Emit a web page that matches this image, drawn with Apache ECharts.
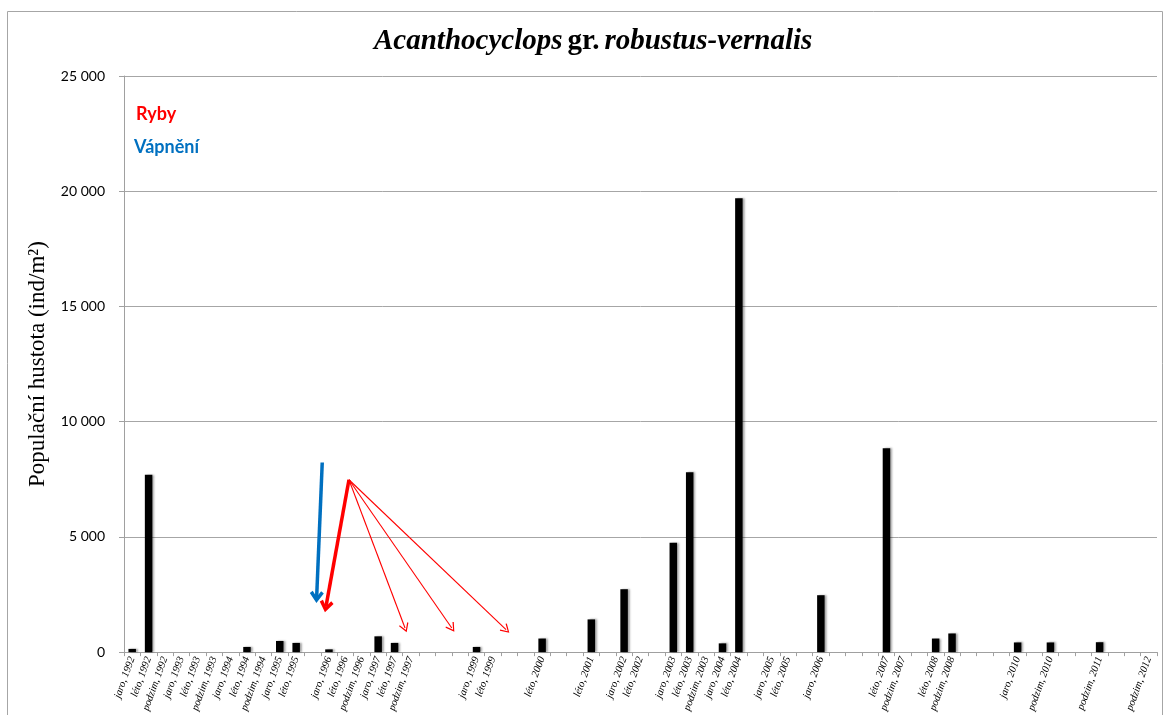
<!DOCTYPE html>
<html>
<head>
<meta charset="utf-8">
<script src="https://cdn.jsdelivr.net/npm/echarts@6/dist/echarts.min.js"></script>
<style>html,body{margin:0;padding:0;background:#fff}#c{width:1164px;height:715px}</style>
</head>
<body>
<div id="c"></div>
<script>
// ---- data ----
const years = [1992,1993,1994,1995,1996,1997,1998,1999,2000,2001,2002,2003,2004,2005,2006,2007,2008,2009,2010,2011,2012];
const seasons = ['jaro', 'léto', 'podzim'];
const categories = years.flatMap(y => seasons.map(s => s + ', ' + y));
// tick labels that are shown on the x axis (sampled seasons)
const tickLabels = [
  'jaro, 1992','léto, 1992','podzim, 1992','jaro, 1993','léto, 1993','podzim, 1993',
  'jaro, 1994','léto, 1994','podzim, 1994','jaro, 1995','léto, 1995',
  'jaro, 1996','léto, 1996','podzim, 1996','jaro, 1997','léto, 1997','podzim, 1997',
  'jaro, 1999','léto, 1999','léto, 2000','léto, 2001','jaro, 2002','léto, 2002',
  'jaro, 2003','léto, 2003','podzim, 2003','jaro, 2004','léto, 2004',
  'jaro, 2005','léto, 2005','jaro, 2006','léto, 2007','podzim, 2007',
  'léto, 2008','podzim, 2008','jaro, 2010','podzim, 2010','podzim, 2011','podzim, 2012'
];
// population density (ind/m2), one value per season 1992-2012
const density = [
  140, 7700, 0,      0, 0, 0,        0, 225, 0,       485, 400, null,
  120, 0, 0,         685, 400, 0,    null, null, null, 225, 0, null,
  null, 590, null,   null, 1420, null, 2730, 0, null, 4750, 7800, 0,
  380, 19700, null,  0, 0, null,     2470, null, null, null, 8850, 0,
  null, 590, 810,    null, null, null, 420, null, 420, null, null, 430,
  null, null, 0
];
const yTicks = [0, 5000, 10000, 15000, 20000, 25000];
// annotation arrows: [xStart, yStart, xEnd, yEnd] in (season index, density) units
const limingArrow = [12.09, 8230, 11.75, 2394];
const fishArrowMain = [13.72, 7480, 12.32, 1986];
const fishArrowsThin = [
  [13.72, 7480, 17.14, 1049],
  [13.72, 7480, 19.99, 1049],
  [13.72, 7480, 23.30, 976]
];

const chevronThin = 'path://M50,0 L100,82 L90,90 L50,22 L10,90 L0,82 Z';
const chevronThick = 'path://M50,0 L100,66 L80,82 L50,40 L20,82 L0,66 Z';

function arrowLine(a, color, width, sym, size) {
  return [
    {coord: [a[0], a[1]], symbol: 'none', lineStyle: {color: color, width: width, type: 'solid'}},
    {coord: [a[2], a[3]], symbol: sym, symbolSize: size}
  ];
}

const chart = echarts.init(document.getElementById('c'), null, {renderer: 'canvas'});
const option = {
  animation: false,
  backgroundColor: '#ffffff',
  title: {
    left: 369,
    top: 22,
    text: '{i|Acanthocyclops} {b|gr.} {i|robustus-vernalis}',
    textStyle: {
      rich: {
        i: {fontFamily: 'Liberation Serif', fontSize: 29, fontWeight: 'bold', fontStyle: 'italic', color: '#000'},
        b: {fontFamily: 'Liberation Serif', fontSize: 29, fontWeight: 'bold', color: '#000'}
      }
    }
  },
  graphic: [
    {type: 'rect', silent: true, shape: {x: 7.5, y: 11.5, width: 1155, height: 720},
     style: {fill: 'none', stroke: '#a6a6a6', lineWidth: 1}},
    {type: 'text', left: 136, top: 105, silent: true,
     style: {text: 'Ryby', fill: '#ff0000', font: 'bold 18px Lato'}},
    {type: 'text', left: 134, top: 138, silent: true,
     style: {text: 'Vápnění', fill: '#0070c0', font: 'bold 18px Lato'}}
  ],
  grid: {left: 124, right: 7, top: 76, bottom: 62.5, containLabel: false},
  xAxis: [
    {
      type: 'category',
      data: categories,
      boundaryGap: true,
      axisLine: {show: true, lineStyle: {color: '#a0a0a0', width: 1}},
      axisTick: {show: true, interval: 0, length: 4, lineStyle: {color: '#a0a0a0'}},
      axisLabel: {
        interval: 0,
        rotate: 70,
        margin: 5,
        fontFamily: 'Liberation Serif',
        fontStyle: 'italic',
        fontSize: 10.5,
        color: '#000',
        formatter: v => tickLabels.includes(v) ? v : ''
      },
      splitLine: {show: false}
    },
    {
      type: 'value', show: false, min: 0, max: categories.length,
      axisLine: {show: false}, splitLine: {show: false}, axisLabel: {show: false}, axisTick: {show: false}
    }
  ],
  yAxis: {
    type: 'value',
    min: 0,
    max: 25000,
    interval: 5000,
    name: 'Populační hustota (ind/m²)',
    nameLocation: 'middle',
    nameGap: 72,
    nameTextStyle: {fontFamily: 'Liberation Serif', fontSize: 23, color: '#000'},
    axisLine: {show: true, lineStyle: {color: '#a0a0a0', width: 1}},
    axisTick: {show: true, inside: false, length: 5, lineStyle: {color: '#a0a0a0'}},
    axisLabel: {
      margin: 19,
      fontFamily: 'Lato',
      fontSize: 14,
      color: '#000',
      formatter: v => yTicks.includes(v) ? String(v).replace(/\B(?=(\d{3})+(?!\d))/g, ' ') : ''
    },
    splitLine: {show: true, lineStyle: {color: '#a6a6a6', width: 1}}
  },
  series: [
    {
      type: 'bar',
      xAxisIndex: 0,
      data: density,
      barWidth: 7.5,
      itemStyle: {
        color: '#000000',
        shadowColor: 'rgba(0,0,0,0.35)',
        shadowBlur: 2,
        shadowOffsetX: 2,
        shadowOffsetY: 0
      },
      silent: true
    },
    {
      type: 'line',
      xAxisIndex: 1,
      data: [],
      silent: true,
      markLine: {
        silent: true,
        animation: false,
        label: {show: false},
        emphasis: {disabled: true},
        data: [
          arrowLine(limingArrow, '#0070c0', 3.5, chevronThick, [14, 12]),
          arrowLine(fishArrowMain, '#ff0000', 3.5, chevronThick, [14, 12]),
          ...fishArrowsThin.map(a => arrowLine(a, '#ff0000', 1.1, chevronThin, [10, 9]))
        ]
      }
    }
  ]
};
chart.setOption(option);
</script>
</body>
</html>
